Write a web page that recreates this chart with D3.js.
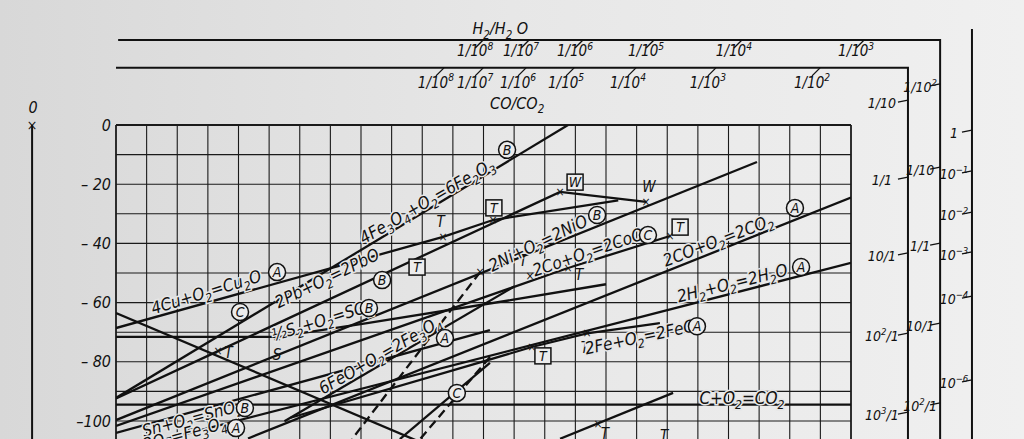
<!DOCTYPE html>
<html><head><meta charset="utf-8">
<script src="https://cdn.jsdelivr.net/npm/d3@7"></script>
<style>
body{margin:0;background:#e4e4e4;overflow:hidden;}
text{font-family:"Liberation Sans Narrow","DejaVu Sans Condensed","Liberation Sans",sans-serif;font-style:italic;fill:#111;}
</style></head><body>
<svg id="c" width="1024" height="439"></svg>
<script>
// ---- data ----
const tempGrid = d3.range(0, 2401, 100);
const gGrid = d3.range(0, -111, -10);
const gTicks = [0, -20, -40, -60, -80, -100];

// reaction lines: [T (°C), dG (kcal)] points
const lineFe2O3 = [[0,-92.2],[1476,0]];
const lineCu2O  = [[0,-68.6],[1068,-37.8],[1231,-32.1],[1640,-25.5]];
const linePbO   = [[0,-92.4],[333,-76.4],[1450,-22.6],[1731,-26.0]];
const lineNiO   = [[0,-99.7],[2093,-12.5]];
const lineCoO   = [[0,-101.7],[1476,-48.3],[1809,-37.5]];
const line2CO   = [[0,-63.5],[993,-107.1]];
const lineSO2   = [[0,-71.6],[526,-71.6],[820,-66.9],[1293,-59.1],[1600,-53.8]];
const lineCO2   = [[431,-105.9],[2400,-24.5]];
const lineH2O   = [[166,-106.0],[2400,-46.6]];
const lineFeO   = [[570,-98.9],[1189,-80.2],[1358,-75.0],[1538,-70.4],[1776,-66.9]];
const lineFe3O4 = [[550,-100.1],[1300,-54.6]];
const lineC     = [[0,-94.5],[2400,-94.5]];
const lineLow   = [[1450,-106.0],[1819,-90.5]];
const lineX1    = [[0,-104.0],[1221,-69.3]];
const lineSteep = [[1221,-80.4],[927,-106.1]];
const dash1     = [[1189,-49.7],[771,-106.1]];
const dash2     = [[1221,-78.4],[993,-106.1]];

const solidLines = [lineFe2O3,lineCu2O,linePbO,lineNiO,lineCoO,line2CO,lineSO2,lineCO2,lineH2O,lineFeO,lineFe3O4,lineC,lineLow,lineX1,lineSteep];
const dashedLines = [dash1, dash2];

// H2/H2O and CO/CO2 top scales (exponent, T position)
const h2Exp = [8,7,6,5,4,3];
const h2Pos = [1176,1326,1502,1734,2021,2420];
const coExp = [8,7,6,5,4,3,2];
const coPos = [1048,1176,1316,1473,1675,1936,2276];

// right scales (label, dG position)
const coRightLab = ["1/10","1/1","10/1","10^2/1","10^3/1"];
const coRightPos = [8.4,-17.6,-43.2,-70.3,-97.0];
const h2RightLab = ["1/10^2","1/10","1/1","10/1","10^2/1"];
const h2RightPos = [13.9,-14.2,-39.9,-66.9,-93.9];
const o2Lab = ["1","10^-1","10^-2","10^-3","10^-4","10^-6"];
const o2Pos = [-1.7,-15.5,-29.4,-42.9,-57.8,-86.1];

// annotations
const reactionLabels = [
  {t:"4Fe_3O_4+O_2=6Fe_2O_3", T:1015, G:-25.7, r:-30},
  {t:"4Cu+O_2=Cu_2O", T:294, G:-56.4, r:-17},
  {t:"2Pb+O_2=2PbO", T:689, G:-51.7, r:-26},
  {t:"½S_2+O_2=SO_2", T:673, G:-65.9, r:-17},
  {t:"6FeO+O_2=2Fe_3O_4", T:862, G:-77.7, r:-30},
  {t:"Sn+O_2=SnO_2", T:248, G:-99.0, r:-15},
  {t:"2Ni+O_2=2NiO", T:1378, G:-39.9, r:-26},
  {t:"2Co+O_2=2CoO", T:1541, G:-42.9, r:-19},
  {t:"2CO+O_2=2CO_2", T:1966, G:-38.9, r:-21},
  {t:"2H_2+O_2=2H_2O", T:2012, G:-53.4, r:-14},
  {t:"2Fe+O_2=2FeO", T:1711, G:-71.6, r:-12},
  {t:"C+O_2=CO_2", T:2044, G:-92.2, r:0},
  {t:"3Fe+2O_2=Fe_3O_4", T:160, G:-106.0, r:-15}
];
const circled = [
  ["B",1277,-8.4],["A",526,-49.7],["B",869,-52.4],["C",405,-63.2],["B",826,-61.8],
  ["A",1074,-72.0],["C",1113,-90.5],["B",421,-95.6],["A",392,-102.4],["B",1571,-30.4],
  ["C",1737,-37.2],["A",2217,-28.0],["A",2237,-48.0],["A",1897,-68.0]
];
const boxed = [["T",983,-48.0],["T",1234,-28.0],["W",1499,-19.3],["T",1842,-34.5],["T",1394,-78.0]];
const crosses = [[333,-76.4],[526,-71.6],[1068,-37.8],[1189,-49.7],[1450,-22.6],[1731,-26.0],
  [1352,-51.0],[1476,-48.3],[1809,-37.5],[1231,-32.1],[1358,-75.0],[1538,-70.4],[1574,-101.0]];
const letters = [["T",368,-76.8],["S",526,-77.2],["T",1060,-32.6],["W",1740,-20.6],["T",1330,-45.6],
  ["T",1512,-50.2],["T",1531,-75.0],["T",1596,-104.2],["T",1790,-104.8]];

// ---- drawing ----
const svg = d3.select("#c");
const defs = svg.append("defs");
const grad = defs.append("linearGradient").attr("id","bg");
grad.append("stop").attr("offset","0").attr("stop-color","#d8d8d8");
grad.append("stop").attr("offset","0.5").attr("stop-color","#e7e7e7");
grad.append("stop").attr("offset","1").attr("stop-color","#f0f0f0");
svg.append("rect").attr("width",1024).attr("height",439).attr("fill","url(#bg)");

const x = d3.scaleLinear().domain([0,2400]).range([116,851]);
const y = d3.scaleLinear().domain([0,-100]).range([125,421]);
const yBottom = 445;

defs.append("clipPath").attr("id","plot").append("rect")
  .attr("x",x(0)).attr("y",y(0)).attr("width",x(2400)-x(0)).attr("height",yBottom-y(0));

// grid
const grid = svg.append("g").attr("stroke","#1a1a1a");
grid.selectAll("line.v").data(tempGrid).join("line").attr("class","v")
  .attr("x1",d=>x(d)).attr("x2",d=>x(d)).attr("y1",y(0)).attr("y2",yBottom)
  .attr("stroke-width",d=>(d===0||d===2400)?1.8:1.1);
grid.selectAll("line.h").data(gGrid).join("line").attr("class","h")
  .attr("x1",x(0)).attr("x2",x(2400)).attr("y1",d=>y(d)).attr("y2",d=>y(d))
  .attr("stroke-width",d=>d===0?1.8:1.1);

// y axis labels
const yAxis = d3.axisLeft(y).tickValues(gTicks).tickSize(0).tickPadding(5)
  .tickFormat(d=> d===0 ? "0" : (d===-100 ? "\u2013100" : "\u2013 " + (-d)));
const ya = svg.append("g").attr("transform",`translate(${x(0)},0)`).call(yAxis);
ya.select(".domain").remove();
ya.selectAll("text").attr("font-size",16).style("font-family",'"Liberation Sans Narrow","DejaVu Sans Condensed",sans-serif').style("font-style","italic").attr("fill","#111");

// left vertical scale line
svg.append("line").attr("x1",x(-274)).attr("x2",x(-274)).attr("y1",y(0)).attr("y2",yBottom)
  .attr("stroke","#111").attr("stroke-width",2);
svg.append("text").attr("x",x(-274)).attr("y",y(0)+5).attr("text-anchor","middle").attr("font-size",14).attr("font-style","normal").text("×");
svg.append("text").attr("x",x(-271)).attr("y",y(0)-12).attr("text-anchor","middle").attr("font-size",16).text("0");

// rich text helper
function rich(sel, str, fs){
  const re = /(_[0-9]+|\^-?[0-9]+|[^_^]+)/g;
  let m, shift = 0;
  while((m = re.exec(str))){
    const tok = m[0];
    if(tok[0]==="_"){
      sel.append("tspan").attr("dy",(fs*0.28 - shift)).attr("font-size",fs*0.72).text(tok.slice(1));
      shift = fs*0.28;
    } else if(tok[0]==="^"){
      sel.append("tspan").attr("dy",(-fs*0.42 - shift)).attr("font-size",fs*0.68).text(tok.slice(1).replace("-","\u2212"));
      shift = -fs*0.42;
    } else {
      sel.append("tspan").attr("dy",-shift).text(tok);
      shift = 0;
    }
  }
}

// nomogram frames
const frame = svg.append("g").attr("fill","none").attr("stroke","#111").attr("stroke-width",2);
frame.append("path").attr("d",d3.line()([[x(7),y(28.7)],[x(2691),y(28.7)],[x(2691),yBottom]]));
frame.append("path").attr("d",d3.line()([[x(0),y(19.3)],[x(2586),y(19.3)],[x(2586),yBottom]]));
frame.append("line").attr("x1",x(2795)).attr("x2",x(2795)).attr("y1",y(32.4)).attr("y2",yBottom);

svg.append("text").attr("x",x(1255)).attr("y",y(30.6)).attr("font-size",16).attr("text-anchor","middle")
  .call(s=>rich(s,"H_2/H_2 O",16));
svg.append("text").attr("x",x(1310)).attr("y",y(5.4)).attr("font-size",16).attr("text-anchor","middle")
  .call(s=>rich(s,"CO/CO_2",16));

function topScale(exps, pos, lineG, baseG){
  const g = svg.append("g");
  exps.forEach((e,i)=>{
    const px = x(pos[i]);
    g.append("line").attr("x1",px+7).attr("y1",y(lineG)).attr("x2",px-1).attr("y2",y(lineG)+8)
      .attr("stroke","#111").attr("stroke-width",1.3);
    g.append("text").attr("x",px-1).attr("y",y(baseG)).attr("font-size",15).attr("text-anchor","middle")
      .call(s=>rich(s,"1/10^"+e,15));
  });
}
topScale(h2Exp,h2Pos,28.7,23.2);
topScale(coExp,coPos,19.3,12.6);

function rightScale(labs,pos,lineT,dx){
  const g = svg.append("g");
  labs.forEach((l,i)=>{
    const py = y(pos[i]);
    g.append("line").attr("x1",x(lineT)-10).attr("x2",x(lineT)).attr("y1",py+2).attr("y2",py)
      .attr("stroke","#111").attr("stroke-width",1.3);
    g.append("text").attr("x",x(lineT)-dx).attr("y",py+8).attr("font-size",14).attr("text-anchor","middle")
      .call(s=>rich(s,l,14));
  });
}
rightScale(coRightLab,coRightPos,2586,26);
rightScale(h2RightLab,h2RightPos,2691,20);
rightScale(o2Lab,o2Pos,2795,18);

// reaction lines
const lg = d3.line().x(d=>x(d[0])).y(d=>y(d[1]));
const lines = svg.append("g").attr("clip-path","url(#plot)").attr("fill","none").attr("stroke","#111");
lines.selectAll("path.s").data(solidLines).join("path").attr("class","s").attr("d",lg).attr("stroke-width",2.3);
lines.selectAll("path.d").data(dashedLines).join("path").attr("class","d").attr("d",lg)
  .attr("stroke-width",2.3).attr("stroke-dasharray","9,5");

// crosses
svg.append("g").selectAll("text").data(crosses).join("text")
  .attr("x",d=>x(d[0])).attr("y",d=>y(d[1])+4).attr("text-anchor","middle")
  .attr("font-size",12).attr("font-style","normal").text("×");
svg.append("g").selectAll("text").data(letters).join("text")
  .attr("x",d=>x(d[1])).attr("y",d=>y(d[2])+6).attr("text-anchor","middle")
  .attr("font-size",15).text(d=>d[0]);

// reaction labels
const lab = svg.append("g");
reactionLabels.forEach(l=>{
  const t = lab.append("text").attr("font-size",17).attr("text-anchor","middle")
    .attr("transform",`translate(${x(l.T)},${y(l.G)}) rotate(${l.r})`).attr("y",6)
    .attr("stroke","#e6e6e6").attr("stroke-width",3).attr("paint-order","stroke");
  rich(t,l.t,17);
});

// circled letters
const cg = svg.append("g").selectAll("g").data(circled).join("g")
  .attr("transform",d=>`translate(${x(d[1])},${y(d[2])})`);
cg.append("circle").attr("r",8.5).attr("fill","#ececec").attr("stroke","#111").attr("stroke-width",1.5);
cg.append("text").attr("text-anchor","middle").attr("y",5).attr("font-size",14).text(d=>d[0]);

// boxed letters
const bg = svg.append("g").selectAll("g").data(boxed).join("g")
  .attr("transform",d=>`translate(${x(d[1])},${y(d[2])})`);
bg.append("rect").attr("x",-8).attr("y",-8).attr("width",16).attr("height",16)
  .attr("fill","#ececec").attr("stroke","#111").attr("stroke-width",1.5);
bg.append("text").attr("text-anchor","middle").attr("y",5).attr("font-size",14).text(d=>d[0]);
</script>
</body></html>
